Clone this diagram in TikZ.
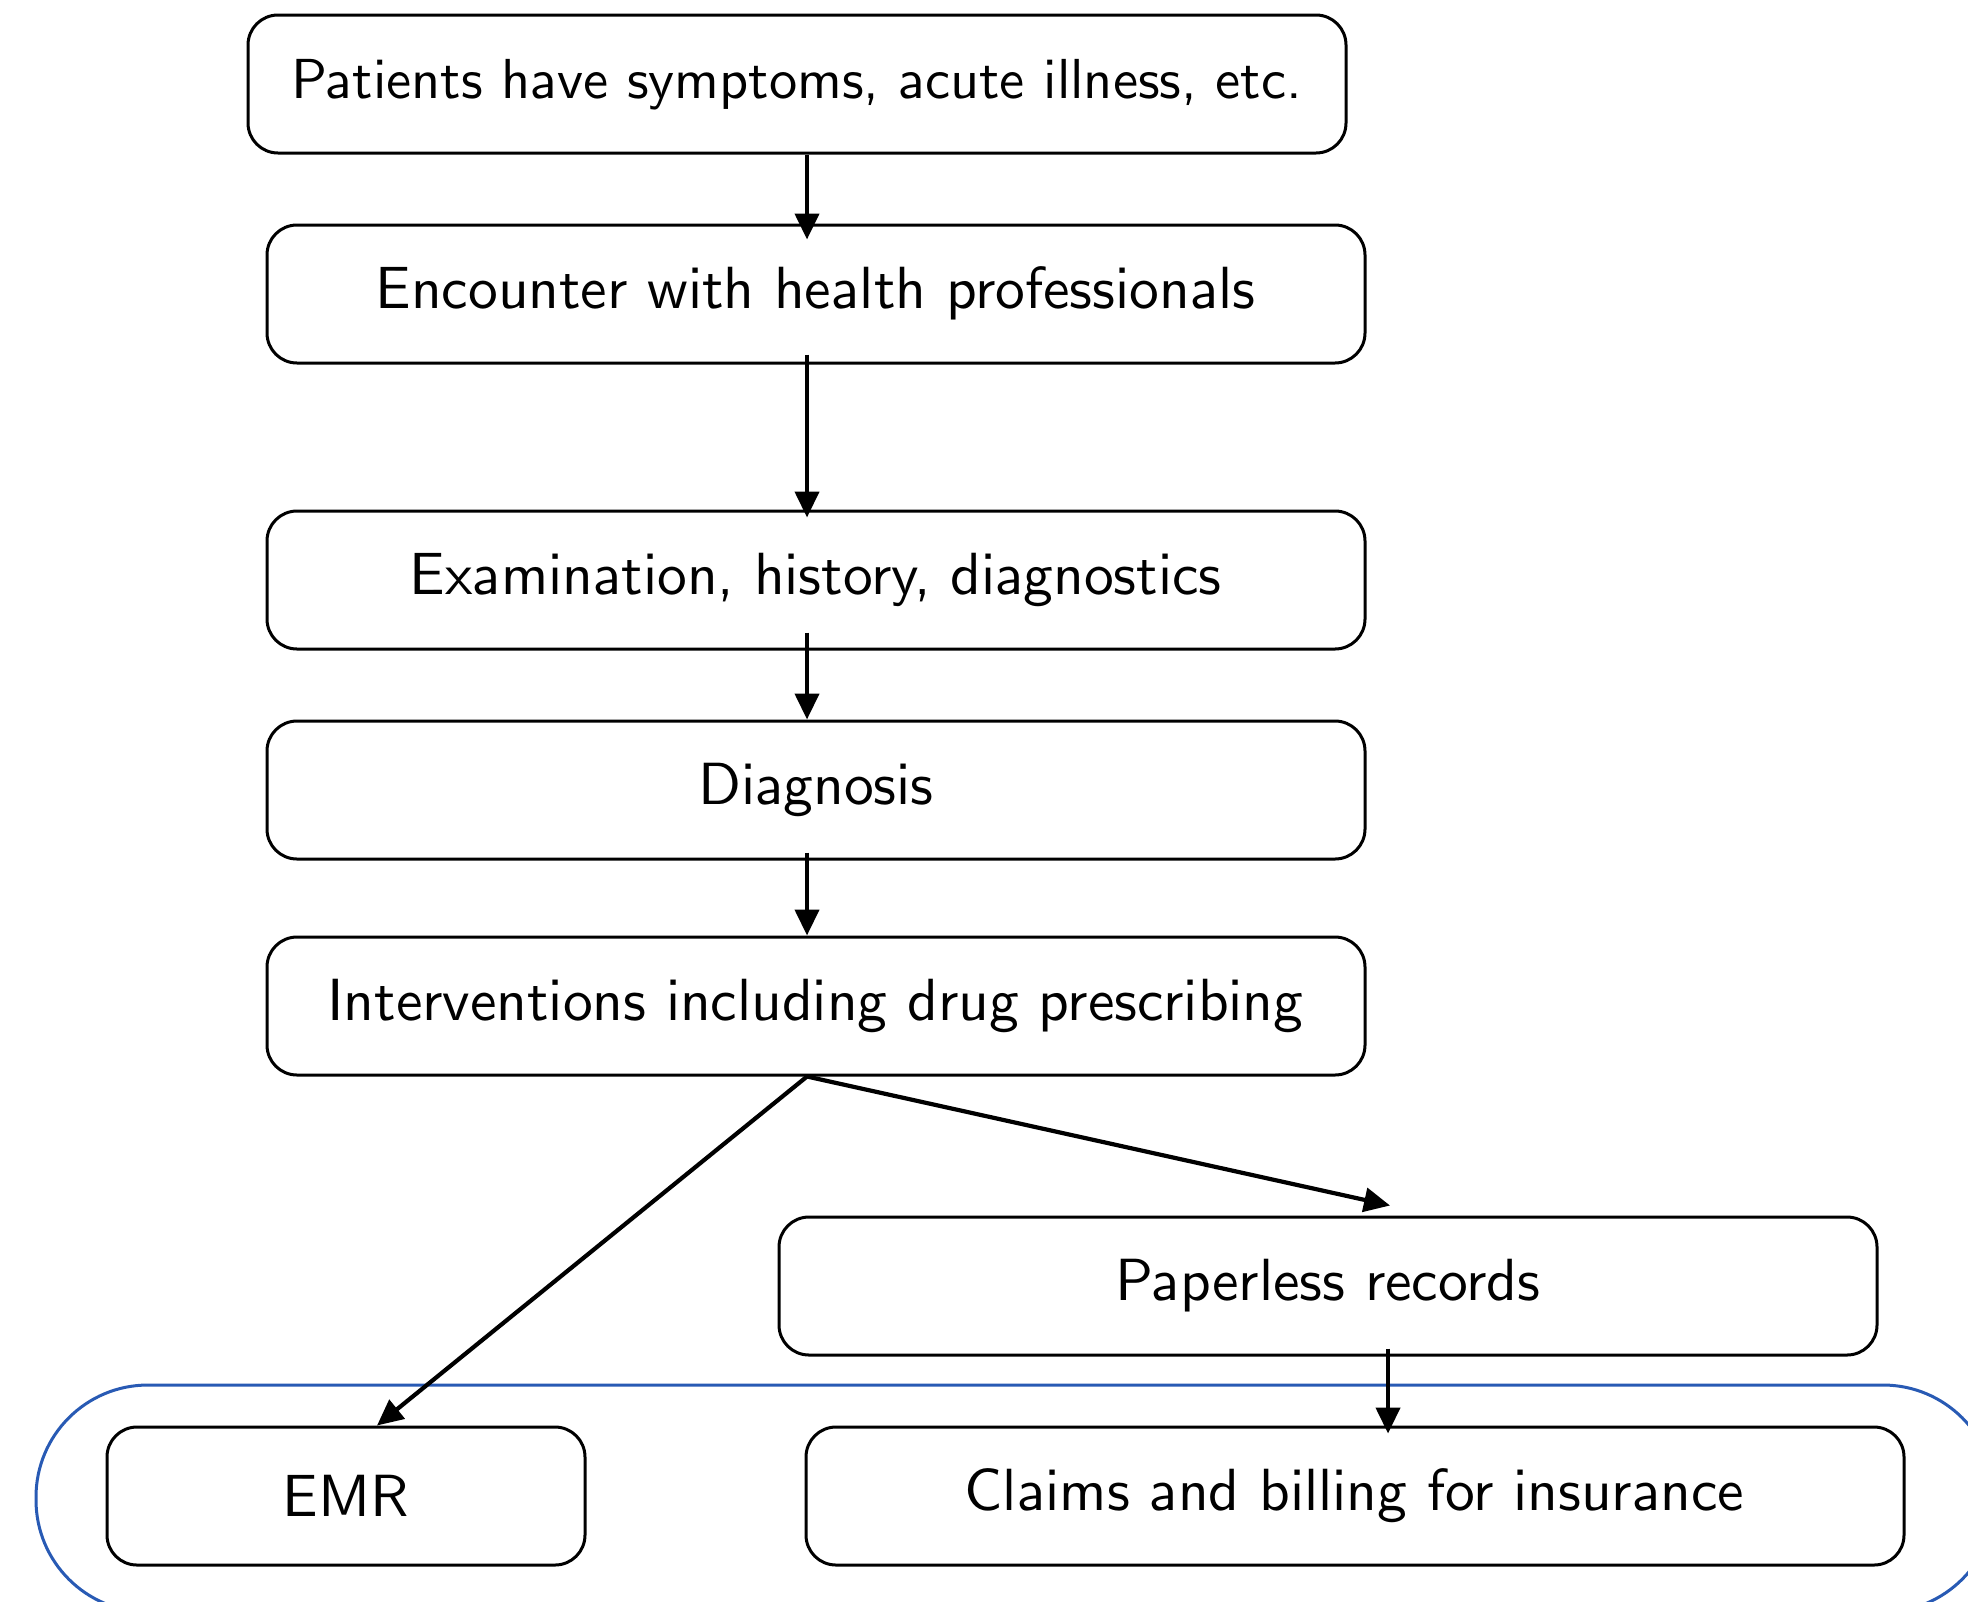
\documentclass[tikz,border=0pt]{standalone}
\usetikzlibrary{arrows.meta,calc}
\definecolor{outlineblue}{RGB}{40,90,180}
\font\boxfont=cmss10 at 29.75pt
\font\topboxfont=cmss10 at 28.2pt
\begin{document}
\begin{tikzpicture}[x=0.5pt,y=-0.5pt,
  flowbox/.style={draw, line width=1.5pt, rounded corners=15pt, minimum width=549pt,
    minimum height=69pt, inner sep=0pt, font=\boxfont},
  arr/.style={line width=2.1pt, -{Triangle[length=13pt,width=12pt]}},
  groupline/.style={draw=outlineblue, line width=1.5pt, rounded corners=56pt}]
\useasboundingbox (0,0) rectangle (1968,1601);
\fill[white] (0,0) rectangle (1968,1601);
\clip (0,0) rectangle (1968,1601);
% group outline
\draw[groupline] (36,1385) rectangle (1995,1612);
% nodes
\node[flowbox, font=\topboxfont] (b1) at (797,84) {Patients have symptoms, acute illness, etc.};
\node[flowbox] (b2) at (816,294) {Encounter with health professionals};
\node[flowbox] (b3) at (816,580) {Examination, history, diagnostics};
\node[flowbox] (b4) at (816,790) {Diagnosis};
\node[flowbox] (b5) at (816,1006) {Interventions including drug prescribing};
\node[flowbox] (pr) at (1328,1286) {Paperless records};
\node[flowbox, minimum width=239pt] (emr) at (346,1496) {EMR};
\node[flowbox] (cl) at (1355,1496) {Claims and billing for insurance};
% connector columns
\coordinate (ax) at (807,0);
\coordinate (bx) at (1388,0);
% connectors
\draw[arr] (b1.south -| ax) -- ($(b2.north -| ax)+(0,16)$);
\draw[arr] ($(b2.south -| ax)+(0,-10)$) -- ($(b3.north -| ax)+(0,8)$);
\draw[arr] ($(b3.south -| ax)+(0,-18)$) -- (b4.north -| ax);
\draw[arr] ($(b4.south -| ax)+(0,-8)$) -- (b5.north -| ax);
\draw[arr] (b5.south -| ax) -- ($(emr.north)+(31,0)$);
\draw[arr] (b5.south -| ax) -- ($(pr.north -| bx)+(2,-10)$);
\draw[arr] ($(pr.south -| bx)+(0,-8)$) -- ($(cl.north -| bx)+(0,8)$);
\end{tikzpicture}
\end{document}
